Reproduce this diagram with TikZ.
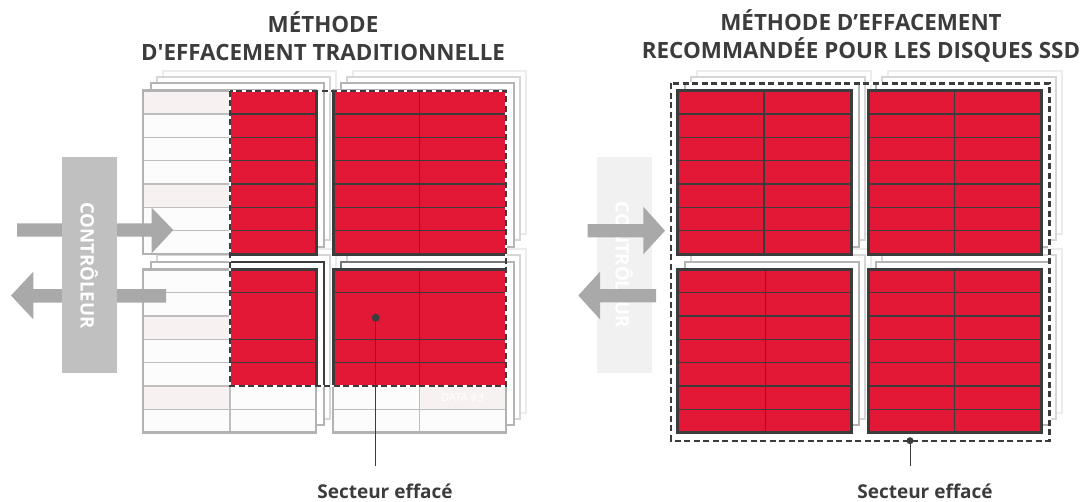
\documentclass[tikz,border=0pt]{standalone}
\usepackage{fontspec}
\setmainfont{Open Sans}[Ligatures=TeXOff]
\definecolor{erase}{RGB}{226,24,54}
\definecolor{ink}{RGB}{60,60,60}
\definecolor{gridgray}{RGB}{190,190,190}
\definecolor{edgegray}{RGB}{178,178,178}
\definecolor{pinkcell}{RGB}{248,241,241}
\definecolor{whitecell}{RGB}{252,252,252}
\definecolor{layA}{RGB}{180,180,180}
\definecolor{layB}{RGB}{214,214,214}
\definecolor{layC}{RGB}{236,236,236}
\definecolor{arrowgray}{RGB}{169,169,169}
\definecolor{ctrlgray}{RGB}{192,192,192}
\definecolor{ctrlpale}{RGB}{241,241,241}
\tikzset{
  layerone/.style={draw=layA, fill=white, line width=2pt},
  layertwo/.style={draw=layB, fill=white, line width=2pt},
  layerthree/.style={draw=layC, fill=white, line width=2pt},
  gridline/.style={draw=gridgray, line width=1.3pt},
  blockline/.style={draw=edgegray, line width=2.6pt},
  redgrid/.style={draw=ink, line width=1.3pt},
  redblock/.style={draw=ink, line width=3pt},
  erasezone/.style={draw=ink, line width=2.4pt, dash pattern=on 6pt off 3.5pt},
  erasezoneback/.style={draw=white, line width=2.4pt},
  title/.style={text=ink, font=\bfseries\fontsize{22.4}{28.5}\selectfont, align=center, inner sep=0pt},
  caption/.style={text=ink, font=\bfseries\fontsize{19}{22}\selectfont, inner sep=0pt},
  ctrlbox/.style={minimum width=55pt, minimum height=216pt, inner sep=0pt},
  ctrltext/.style={text=white, font=\bfseries\fontsize{18.6}{19}\selectfont, rotate=-90, inner sep=0pt},
  leader/.style={draw=ink, line width=1pt},
  leaderdot/.style={circle, fill=ink, inner sep=0pt},
}
% stacked outlines of the flash pages lying behind a block: x1, y1, x2, y2
\newcommand{\pagestack}[4]{%
  \draw[layerthree] (#1+20,#2-20) rectangle (#3+20,#4-20);
  \draw[layertwo]   (#1+14,#2-14) rectangle (#3+14,#4-14);
  \draw[layerone]   (#1+8,#2-7.5) rectangle (#3+8,#4-7.5);
}
% a page with seven rows and two columns, unerased: x1, y1, x2, y2, column split
\newcommand{\plainpage}[5]{%
  \foreach \k in {1,...,6} \draw[gridline] (#1,{#2+\k*(#4-#2)/7}) -- (#3,{#2+\k*(#4-#2)/7});
  \draw[gridline] (#5,#2) -- (#5,#4);
  \draw[blockline] (#1,#2) rectangle (#3,#4);
}
% a page with every cell erased
\newcommand{\redpage}[5]{%
  \fill[erase] (#1,#2) rectangle (#3,#4);
  \foreach \k in {1,...,6} \draw[redgrid] (#1,{#2+\k*(#4-#2)/7}) -- (#3,{#2+\k*(#4-#2)/7});
  \draw[redgrid] (#5,#2) -- (#5,#4);
  \draw[redblock] (#1,#2) rectangle (#3,#4);
}
% a pale cell: x1, y1 (row top), x2
\newcommand{\pinkrow}[3]{\fill[pinkcell] (#1,#2) rectangle (#3,#2+23.35);}

\begin{document}
\begin{tikzpicture}[x=1pt, y=-1pt]
\useasboundingbox (0,0) rectangle (1083,501);

% ---------------- titles ----------------
\node[title] (titleL) at (323,36) {MÉTHODE\\D'EFFACEMENT TRADITIONNELLE};
\node[title] (titleR) at (861,36) {MÉTHODE D’EFFACEMENT\\RECOMMANDÉE POUR LES DISQUES SSD};

% ================= traditional erase =================
\pagestack{143}{90.7}{316}{254.15}
\pagestack{333}{90.7}{506}{254.15}
\pagestack{143}{269.3}{316}{432.75}
\pagestack{333}{269.3}{506}{432.75}
% the erased area reaches into the pages behind the lower blocks
\begin{scope}
  \clip (230,90.7) rectangle (506,386);
  \draw[draw=ink, line width=2pt] (151,261.8) rectangle (324,425.25);
  \draw[draw=ink!70, line width=2pt] (341,261.8) rectangle (514,425.25);
\end{scope}

% pages, white cells
\fill[whitecell] (143,90.7) rectangle (316,254.15);
\fill[whitecell] (333,90.7) rectangle (506,254.15);
\fill[whitecell] (143,269.3) rectangle (316,432.75);
\fill[whitecell] (333,269.3) rectangle (506,432.75);
\pinkrow{143}{90.7}{230}
\pinkrow{143}{184.1}{230}
\pinkrow{143}{316.0}{230}
\pinkrow{143}{386.05}{230}
\pinkrow{419.5}{386.05}{506}
\plainpage{143}{90.7}{316}{254.15}{230}
\plainpage{333}{90.7}{506}{254.15}{419.5}
\plainpage{143}{269.3}{316}{432.75}{230}
\plainpage{333}{269.3}{506}{432.75}{419.5}
\node[text=white, font=\fontsize{11}{12}\selectfont, inner sep=0pt] (data3) at (462.7,397.7) {DATA \#3};

% erased sector
\begin{scope}
  \clip (230,90.7) rectangle (506,386);
  \fill[erase] (143,90.7) rectangle (316,254.15);
  \fill[erase] (333,90.7) rectangle (506,254.15);
  \fill[erase] (143,269.3) rectangle (316,432.75);
  \fill[erase] (333,269.3) rectangle (506,432.75);
  \foreach \k in {1,...,6} {
    \draw[redgrid] (143,{90.7+\k*23.35}) -- (316,{90.7+\k*23.35});
    \draw[redgrid] (333,{90.7+\k*23.35}) -- (506,{90.7+\k*23.35});
  }
  \foreach \k in {1,3,4,5} {
    \draw[redgrid] (143,{269.3+\k*23.35}) -- (316,{269.3+\k*23.35});
    \draw[redgrid] (333,{269.3+\k*23.35}) -- (506,{269.3+\k*23.35});
  }
  \draw[redgrid] (419.5,90.7) -- (419.5,254.15);
  \draw[redgrid] (419.5,269.3) -- (419.5,432.75);
  \draw[redblock] (143,90.7) rectangle (316,254.15);
  \draw[redblock] (333,90.7) rectangle (506,254.15);
  \draw[redblock] (143,269.3) rectangle (316,432.75);
  \draw[redblock] (333,269.3) rectangle (506,432.75);
\end{scope}
\draw[erasezoneback] (230,90.7) rectangle (506,386);
\draw[erasezone] (230,90.7) rectangle (506,386);

% controller and data flow
\fill[arrowgray] (17,223.3) -- (151.7,223.3) -- (151.7,207.7) -- (173.3,230) -- (151.7,253.3) -- (151.7,236.7) -- (17,236.7) -- cycle;
\fill[arrowgray] (166,289) -- (33.3,289) -- (33.3,271.7) -- (11,295.5) -- (33.3,319.3) -- (33.3,302.7) -- (166,302.7) -- cycle;
\node[ctrlbox, fill=ctrlgray] (ctrlL) at (89.3,265.3) {};
\node[ctrltext] (ctrlLtext) at (ctrlL.center) {CONTRÔLEUR};

% label
\node[leaderdot, minimum size=8pt] (dotL) at (375.7,317.7) {};
\coordinate (endL) at (375.7,466);
\draw[leader] (dotL.center) -- (endL);
\node[caption] (capL) at (385,491) {Secteur effacé};

% ================= recommended SSD erase =================
\pagestack{677.3}{90.7}{851}{254.15}
\pagestack{868.3}{90.7}{1041.7}{254.15}
\pagestack{677.3}{269.3}{851}{432.75}
\pagestack{868.3}{269.3}{1041.7}{432.75}
\redpage{677.3}{90.7}{851}{254.15}{764}
\redpage{868.3}{90.7}{1041.7}{254.15}{954.7}
\redpage{677.3}{269.3}{851}{432.75}{765.5}
\redpage{868.3}{269.3}{1041.7}{432.75}{954.7}
\draw[erasezoneback] (671,83.3) rectangle (1049.3,440.7);
\draw[erasezone] (671,83.3) rectangle (1049.3,440.7);

\node[ctrlbox, fill=ctrlpale] (ctrlR) at (624.2,265) {};
\node[ctrltext] (ctrlRtext) at (ctrlR.center) {CONTRÔLEUR};
\fill[arrowgray] (587.7,224) -- (643.3,224) -- (643.3,206.7) -- (665,230.7) -- (643.3,254.3) -- (643.3,237.3) -- (587.7,237.3) -- cycle;
\fill[arrowgray] (656,289) -- (600,289) -- (600,271.7) -- (578.3,295.5) -- (600,319.3) -- (600,302.3) -- (656,302.3) -- cycle;

\node[leaderdot, minimum size=7pt] (dotR) at (910,440.7) {};
\coordinate (endR) at (910,466);
\draw[leader] (dotR.center) -- (endR);
\node[caption] (capR) at (925,491) {Secteur effacé};
\end{tikzpicture}
\end{document}
